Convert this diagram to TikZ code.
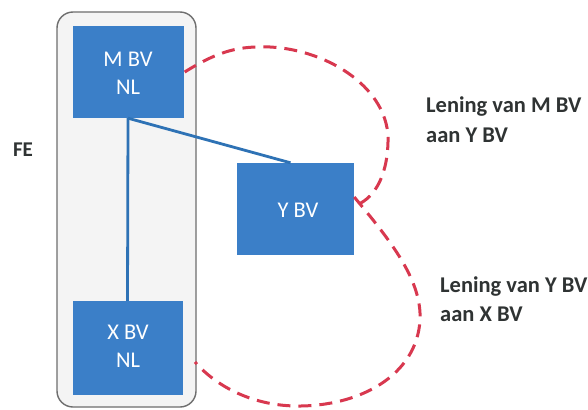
\documentclass[tikz,border=0pt]{standalone}
\usepackage{fontspec}
\setmainfont{Carlito}
\begin{document}
\begin{tikzpicture}[x=1pt,y=-1pt,
  ent/.style={draw=none,fill=boxblue,text=white,font=\fontsize{22.5}{28}\selectfont,align=center,inner sep=0pt},
  link/.style={draw=lineblue,line width=2.8pt},
  loan/.style={draw=loanred,line width=3pt,dash pattern=on 13pt off 8pt},
  lbl/.style={text=txtgray,font=\bfseries\fontsize{22.5}{29}\selectfont,align=left,anchor=base west,inner sep=0pt}]
\definecolor{boxblue}{HTML}{3B7FC8}
\definecolor{lineblue}{HTML}{2E72B5}
\definecolor{loanred}{HTML}{D8384F}
\definecolor{txtgray}{HTML}{2F3333}
\definecolor{fegray}{HTML}{F4F4F4}
\definecolor{feedge}{HTML}{6E6E6E}
\useasboundingbox (0,0) rectangle (588,409);
\fill[white] (0,0) rectangle (588,409);
% container
\draw[draw=feedge,fill=fegray,line width=1.4pt,rounded corners=16pt] (57,12) rectangle (196,407);
% entities
\node[ent,minimum width=111pt,minimum height=92pt] (m) at (128,72) {};
\node[ent,minimum width=117pt,minimum height=92pt] (y) at (295.5,209) {};
\node[ent,minimum width=110pt,minimum height=94pt] (x) at (127.5,348) {};
\node[ent,fill=none] (mt) at (128,73.5) {M BV\\NL};
\node[ent,fill=none] (yt) at (298,210.5) {Y BV};
\node[ent,fill=none] (xt) at (128,346) {X BV\\NL};
% ownership lines
\draw[link] (m.south) -- (x.north);
\draw[link] (m.south) -- ([xshift=-5pt]y.north);
% loans
\draw[loan] ([xshift=1pt]m.east) .. controls (220,50) and (240,46) .. (270,47)
  .. controls (330,50) and (390,90) .. (388,142)
  .. controls (387,180) and (372,200) .. ([yshift=3pt]y.east);
\draw[loan] ([yshift=12pt]y.east) .. controls (390,240) and (422,280) .. (420,320)
  .. controls (417,375) and (360,407) .. (295,406)
  .. controls (250,405) and (215,385) .. (195,362);
% labels
\node[text=txtgray,font=\bfseries\fontsize{21}{24}\selectfont,inner sep=0pt] (fe) at (23,150) {FE};
\node[lbl] (l1) at (426,142) {Lening van M BV\\aan Y BV};
\node[lbl] (l2) at (440,321) {Lening van Y BV\\aan X BV};
\end{tikzpicture}
\end{document}
